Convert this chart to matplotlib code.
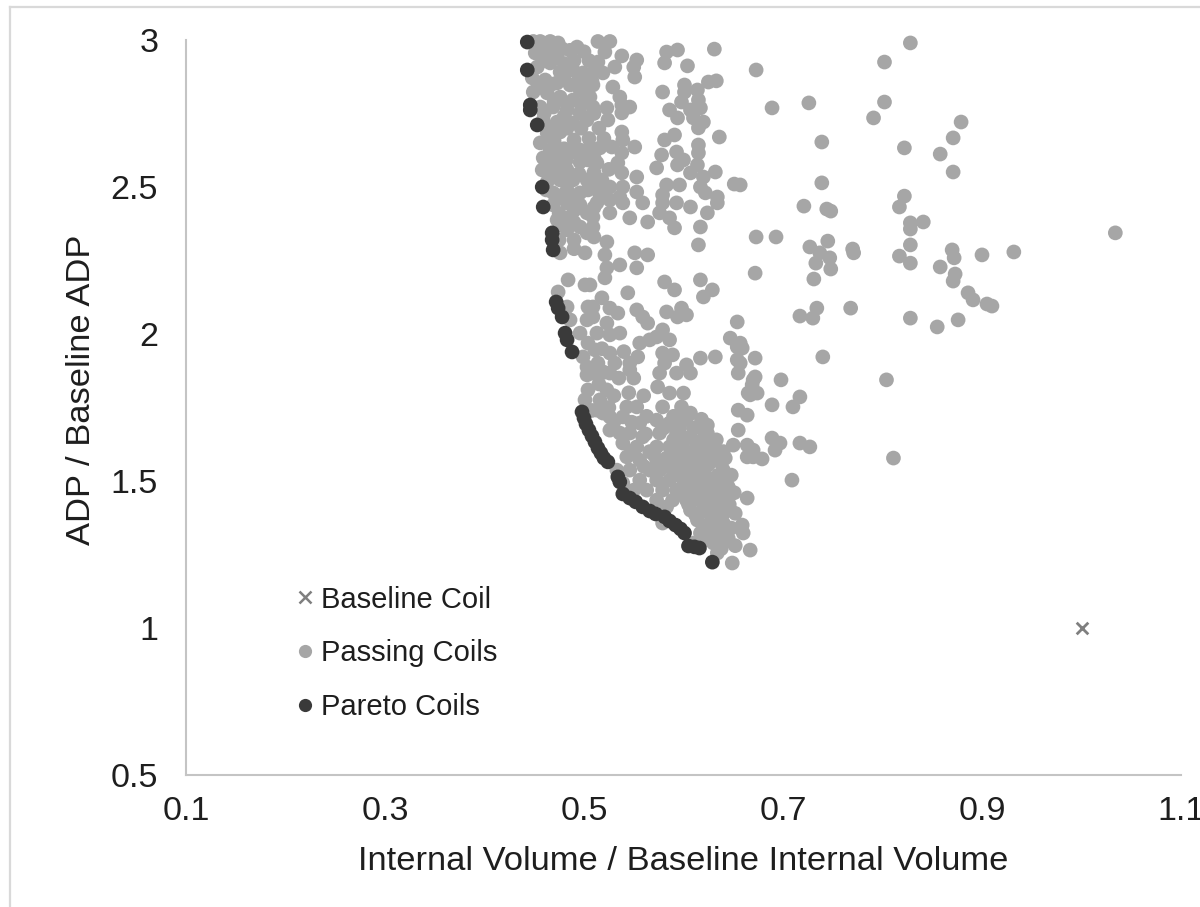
import matplotlib
matplotlib.use("Agg")
import matplotlib.pyplot as plt
from matplotlib.lines import Line2D

# ---------------- data ----------------
baseline_x = [1.0]
baseline_y = [1.0]

pareto_x = [0.443, 0.443, 0.446, 0.446, 0.453, 0.458, 0.459, 0.468, 0.468, 0.469,
            0.472, 0.474, 0.478, 0.481, 0.483, 0.488, 0.498, 0.500, 0.502, 0.505,
            0.508, 0.511, 0.514, 0.517, 0.520, 0.524, 0.534, 0.536, 0.539, 0.546,
            0.552, 0.559, 0.566, 0.572, 0.581, 0.586, 0.592, 0.597, 0.601, 0.605,
            0.611, 0.616, 0.629]
pareto_y = [2.993, 2.898, 2.779, 2.762, 2.711, 2.500, 2.432, 2.344, 2.320, 2.286,
            2.109, 2.088, 2.058, 2.003, 1.980, 1.939, 1.735, 1.714, 1.694, 1.673,
            1.653, 1.633, 1.612, 1.595, 1.578, 1.565, 1.514, 1.497, 1.456, 1.442,
            1.429, 1.412, 1.398, 1.388, 1.378, 1.364, 1.350, 1.337, 1.323, 1.279,
            1.276, 1.272, 1.224]

passing_upper_left = [
    (0.449, 2.995), (0.456, 2.995), (0.466, 2.995), (0.474, 2.990), (0.493, 2.976),
    (0.451, 2.956), (0.463, 2.966), (0.473, 2.949), (0.453, 2.908), (0.466, 2.922),
    (0.476, 2.891), (0.489, 2.898), (0.499, 2.888), (0.448, 2.871), (0.461, 2.864),
    (0.473, 2.854), (0.486, 2.847), (0.496, 2.830), (0.503, 2.840), (0.449, 2.823),
    (0.463, 2.820), (0.476, 2.806), (0.489, 2.796), (0.503, 2.806), (0.456, 2.772),
    (0.469, 2.772), (0.483, 2.762), (0.496, 2.752), (0.459, 2.728), (0.473, 2.721),
    (0.489, 2.718), (0.503, 2.728), (0.463, 2.684), (0.476, 2.687), (0.456, 2.650),
    (0.466, 2.626), (0.474, 2.602), (0.459, 2.599), (0.488, 2.619), (0.496, 2.626),
    (0.458, 2.558), (0.471, 2.565), (0.483, 2.558), (0.496, 2.585), (0.504, 2.592),
    (0.463, 2.517), (0.476, 2.524), (0.489, 2.524), (0.503, 2.524), (0.469, 2.480),
    (0.483, 2.490), (0.496, 2.480), (0.504, 2.490),
    (0.478, 2.970), (0.486, 2.965), (0.500, 2.960), (0.505, 2.930), (0.490, 2.930),
    (0.480, 2.920), (0.460, 2.930), (0.495, 2.870), (0.508, 2.860), (0.480, 2.870),
    (0.468, 2.850), (0.455, 2.850), (0.470, 2.790), (0.483, 2.780), (0.497, 2.780),
    (0.460, 2.750), (0.480, 2.740), (0.510, 2.750), (0.467, 2.700), (0.483, 2.700),
    (0.497, 2.700), (0.515, 2.700), (0.490, 2.660), (0.505, 2.665), (0.520, 2.665),
    (0.470, 2.655), (0.480, 2.630), (0.468, 2.580), (0.482, 2.590), (0.510, 2.600),
    (0.468, 2.540), (0.480, 2.540), (0.495, 2.545), (0.510, 2.550), (0.525, 2.560),
    (0.462, 2.490), (0.476, 2.470), (0.490, 2.460), (0.510, 2.505), (0.520, 2.490),
]

passing_upper_right = [
    (0.514, 2.995), (0.526, 2.995), (0.521, 2.959), (0.538, 2.946), (0.553, 2.932),
    (0.514, 2.925), (0.531, 2.908), (0.550, 2.908), (0.509, 2.888), (0.519, 2.888),
    (0.551, 2.874), (0.509, 2.847), (0.529, 2.840), (0.506, 2.806), (0.536, 2.806),
    (0.509, 2.772), (0.523, 2.769), (0.538, 2.779), (0.546, 2.772), (0.524, 2.728),
    (0.538, 2.752), (0.583, 2.959), (0.594, 2.966), (0.581, 2.922), (0.604, 2.912),
    (0.631, 2.969), (0.579, 2.823), (0.601, 2.847), (0.601, 2.823), (0.614, 2.830),
    (0.625, 2.857), (0.633, 2.861), (0.615, 2.796), (0.598, 2.789), (0.586, 2.762),
    (0.594, 2.735), (0.607, 2.762), (0.617, 2.769), (0.610, 2.735), (0.620, 2.721),
    (0.615, 2.701), (0.636, 2.670), (0.538, 2.687), (0.539, 2.660), (0.506, 2.636),
    (0.516, 2.633), (0.528, 2.636), (0.551, 2.636), (0.538, 2.616), (0.513, 2.582),
    (0.534, 2.582), (0.538, 2.548), (0.518, 2.524), (0.553, 2.534), (0.506, 2.500),
    (0.526, 2.500), (0.539, 2.500), (0.553, 2.483), (0.516, 2.473), (0.536, 2.466),
    (0.581, 2.660), (0.591, 2.677), (0.578, 2.609), (0.593, 2.619), (0.600, 2.592),
    (0.573, 2.565), (0.594, 2.575), (0.615, 2.643), (0.615, 2.616), (0.614, 2.575),
    (0.607, 2.548), (0.620, 2.534), (0.632, 2.551), (0.583, 2.507), (0.596, 2.507),
    (0.617, 2.500), (0.622, 2.480), (0.579, 2.473), (0.651, 2.510), (0.634, 2.466),
]

passing_middle = [
    (0.469, 2.439), (0.483, 2.446), (0.496, 2.439), (0.503, 2.412), (0.473, 2.388),
    (0.486, 2.398), (0.496, 2.364), (0.483, 2.354), (0.503, 2.344), (0.476, 2.276),
    (0.501, 2.276), (0.484, 2.184), (0.501, 2.167), (0.474, 2.143), (0.483, 2.092),
    (0.504, 2.092), (0.486, 2.048), (0.503, 2.048), (0.496, 2.003), (0.504, 1.969),
    (0.499, 1.922), (0.503, 1.888),
    (0.475, 2.410), (0.490, 2.420), (0.510, 2.430), (0.478, 2.370), (0.490, 2.380),
    (0.475, 2.320), (0.490, 2.320), (0.510, 2.330), (0.490, 2.290),
    (0.513, 2.446), (0.526, 2.456), (0.539, 2.446), (0.559, 2.446), (0.579, 2.446),
    (0.593, 2.446), (0.607, 2.432), (0.634, 2.446), (0.509, 2.398), (0.526, 2.412),
    (0.546, 2.395), (0.564, 2.381), (0.576, 2.412), (0.586, 2.395), (0.591, 2.361),
    (0.624, 2.412), (0.617, 2.364), (0.509, 2.364), (0.615, 2.303), (0.523, 2.313),
    (0.521, 2.269), (0.551, 2.276), (0.564, 2.269), (0.536, 2.235), (0.553, 2.225),
    (0.523, 2.225), (0.521, 2.191), (0.581, 2.177), (0.591, 2.150), (0.617, 2.184),
    (0.629, 2.150), (0.620, 2.126), (0.544, 2.140), (0.518, 2.123), (0.506, 2.167),
    (0.526, 2.088), (0.534, 2.071), (0.553, 2.082), (0.559, 2.058), (0.564, 2.037),
    (0.583, 2.075), (0.598, 2.088), (0.603, 2.065), (0.594, 2.058), (0.509, 2.092),
    (0.509, 2.058), (0.523, 2.037), (0.654, 2.041), (0.513, 2.003), (0.526, 1.997),
    (0.536, 2.003), (0.579, 2.014), (0.573, 1.990), (0.556, 1.969), (0.566, 1.980),
    (0.586, 1.980), (0.647, 1.986), (0.654, 1.956), (0.511, 1.946), (0.526, 1.935),
    (0.554, 1.922), (0.579, 1.935), (0.589, 1.929), (0.603, 1.895), (0.617, 1.918),
    (0.632, 1.922), (0.654, 1.912), (0.514, 1.901), (0.531, 1.901), (0.546, 1.901),
    (0.581, 1.901),
    (0.518, 1.950), (0.540, 1.940), (0.520, 1.870), (0.535, 1.850), (0.550, 1.850),
    (0.515, 1.830), (0.530, 1.790), (0.545, 1.800), (0.560, 1.790), (0.508, 1.740),
    (0.525, 1.750),
]

passing_lower = [
    (0.509, 1.867), (0.526, 1.867), (0.546, 1.878), (0.576, 1.867), (0.593, 1.867),
    (0.607, 1.867), (0.655, 1.867), (0.670, 1.844), (0.667, 1.793), (0.574, 1.820),
    (0.586, 1.799), (0.600, 1.799), (0.523, 1.810), (0.516, 1.776), (0.543, 1.752),
    (0.553, 1.752), (0.579, 1.752), (0.598, 1.752), (0.607, 1.731), (0.655, 1.741),
    (0.664, 1.724), (0.526, 1.718), (0.539, 1.718), (0.556, 1.697), (0.573, 1.707),
    (0.586, 1.697), (0.600, 1.707), (0.617, 1.684), (0.624, 1.663), (0.655, 1.673),
    (0.650, 1.622), (0.664, 1.622), (0.670, 1.582), (0.664, 1.582), (0.630, 1.616),
    (0.642, 1.578), (0.526, 1.673), (0.546, 1.663), (0.559, 1.650), (0.576, 1.663),
    (0.593, 1.663), (0.607, 1.650), (0.614, 1.629), (0.539, 1.629), (0.553, 1.616),
    (0.573, 1.616), (0.586, 1.616), (0.600, 1.605), (0.620, 1.595), (0.630, 1.571),
    (0.543, 1.582), (0.556, 1.571), (0.573, 1.571), (0.583, 1.578), (0.593, 1.571),
    (0.607, 1.571), (0.617, 1.548), (0.566, 1.537), (0.576, 1.537), (0.589, 1.537),
    (0.603, 1.537), (0.640, 1.537), (0.546, 1.537), (0.556, 1.503), (0.573, 1.503),
    (0.586, 1.503), (0.600, 1.503), (0.614, 1.503), (0.627, 1.503), (0.642, 1.493),
    (0.550, 1.469), (0.563, 1.469), (0.579, 1.469), (0.593, 1.469), (0.607, 1.469),
    (0.620, 1.469), (0.634, 1.469), (0.664, 1.442), (0.573, 1.435), (0.589, 1.435),
    (0.603, 1.435), (0.617, 1.435), (0.630, 1.435), (0.637, 1.401), (0.583, 1.412),
    (0.607, 1.401), (0.620, 1.401), (0.634, 1.378), (0.579, 1.357), (0.614, 1.367),
    (0.627, 1.357), (0.640, 1.357), (0.659, 1.350), (0.660, 1.323), (0.617, 1.323),
    (0.630, 1.323), (0.640, 1.323), (0.667, 1.265), (0.630, 1.289), (0.640, 1.289),
    (0.620, 1.299), (0.634, 1.255), (0.649, 1.221), (0.610, 1.289),
    (0.533, 1.537), (0.539, 1.493), (0.513, 1.741), (0.519, 1.731), (0.536, 1.663),
    (0.503, 1.861), (0.504, 1.810), (0.501, 1.776),
    (0.590, 1.720), (0.604, 1.720), (0.618, 1.710), (0.596, 1.680), (0.610, 1.680),
    (0.624, 1.690), (0.590, 1.640), (0.603, 1.645), (0.620, 1.645), (0.633, 1.640),
    (0.597, 1.620), (0.612, 1.610), (0.626, 1.610), (0.640, 1.600), (0.590, 1.590),
    (0.604, 1.585), (0.618, 1.580), (0.634, 1.580), (0.598, 1.555), (0.610, 1.550),
    (0.625, 1.555), (0.638, 1.560), (0.595, 1.520), (0.608, 1.520), (0.622, 1.520),
    (0.635, 1.520), (0.648, 1.520), (0.601, 1.490), (0.615, 1.490), (0.629, 1.485),
    (0.645, 1.480), (0.598, 1.455), (0.611, 1.450), (0.625, 1.450), (0.639, 1.450),
    (0.651, 1.460), (0.605, 1.420), (0.620, 1.420), (0.633, 1.415), (0.646, 1.420),
    (0.612, 1.385), (0.626, 1.390), (0.640, 1.390), (0.652, 1.390), (0.620, 1.345),
    (0.634, 1.340), (0.648, 1.340), (0.626, 1.305), (0.645, 1.305), (0.638, 1.270),
    (0.652, 1.280),
    (0.548, 1.700), (0.563, 1.720), (0.562, 1.660), (0.566, 1.600), (0.548, 1.600),
    (0.560, 1.550), (0.570, 1.590), (0.580, 1.550), (0.580, 1.680), (0.530, 1.700),
]

passing_outer = [
    (0.828, 2.990), (0.802, 2.925), (0.673, 2.898), (0.689, 2.769), (0.726, 2.786),
    (0.802, 2.789), (0.791, 2.735), (0.739, 2.653), (0.822, 2.633), (0.858, 2.612),
    (0.657, 2.507), (0.739, 2.514), (0.822, 2.469), (0.817, 2.432), (0.721, 2.435),
    (0.744, 2.425), (0.748, 2.418), (0.841, 2.381), (0.828, 2.378), (0.828, 2.357),
    (0.673, 2.330), (0.693, 2.330), (0.745, 2.316), (0.828, 2.303), (0.727, 2.296),
    (0.770, 2.289), (0.737, 2.276), (0.747, 2.259), (0.733, 2.241), (0.748, 2.221),
    (0.731, 2.187), (0.771, 2.276), (0.817, 2.265), (0.828, 2.241), (0.858, 2.228),
    (0.672, 2.207), (0.717, 2.061), (0.734, 2.088), (0.730, 2.054), (0.768, 2.088),
    (0.828, 2.054), (0.855, 2.024), (0.740, 1.922), (0.804, 1.844), (0.657, 1.969),
    (0.659, 1.952), (0.672, 1.918), (0.657, 1.901), (0.672, 1.854), (0.669, 1.827),
    (0.665, 1.799), (0.674, 1.799), (0.698, 1.844), (0.717, 1.786), (0.710, 1.752),
    (0.689, 1.759), (0.689, 1.646), (0.697, 1.629), (0.692, 1.605), (0.717, 1.629),
    (0.727, 1.616), (0.670, 1.605), (0.679, 1.575), (0.811, 1.578), (0.709, 1.503),
    (0.879, 2.721), (0.871, 2.667), (0.871, 2.551), (1.034, 2.344), (0.870, 2.286),
    (0.872, 2.259), (0.900, 2.269), (0.932, 2.279), (0.873, 2.204), (0.871, 2.180),
    (0.886, 2.140), (0.891, 2.116), (0.905, 2.102), (0.910, 2.095), (0.876, 2.048),
]

x_ticks = [0.1, 0.3, 0.5, 0.7, 0.9, 1.1]
y_ticks = [0.5, 1, 1.5, 2, 2.5, 3]
x_tick_labels = ["0.1", "0.3", "0.5", "0.7", "0.9", "1.1"]
y_tick_labels = ["0.5", "1", "1.5", "2", "2.5", "3"]

# ---------------- figure ----------------
plt.rcParams['font.family'] = ['Liberation Sans', 'DejaVu Sans']
TEXT = '#1e1e1e'
PASS_C = '#a6a6a6'
PARETO_C = '#3a3a3a'
BASE_C = '#7f7f7f'

fig = plt.figure(figsize=(12, 9.07), dpi=100)
ax = fig.add_axes([186/1200, 1 - 775/907, 995/1200, 735/907])

passing = passing_upper_left + passing_upper_right + passing_middle + passing_lower + passing_outer
px = [p[0] for p in passing]
py = [p[1] for p in passing]

ax.scatter(px, py, s=112, color=PASS_C, edgecolors='none', zorder=2, clip_on=False)
ax.scatter(pareto_x, pareto_y, s=112, color=PARETO_C, edgecolors='none', zorder=3, clip_on=False)
ax.scatter(baseline_x, baseline_y, s=70, marker='x', color=BASE_C, linewidths=2, zorder=4)

ax.set_xlim(0.1, 1.1)
ax.set_ylim(0.5, 3)
ax.set_xticks(x_ticks)
ax.set_xticklabels(x_tick_labels)
ax.set_yticks(y_ticks)
ax.set_yticklabels(y_tick_labels)
ax.tick_params(axis='both', length=0, labelsize=24.5, colors=TEXT)
ax.tick_params(axis='x', pad=15)
ax.tick_params(axis='y', pad=20)

for s in ['top', 'right']:
    ax.spines[s].set_visible(False)
for s in ['left', 'bottom']:
    ax.spines[s].set_color('#c4c4c4')
    ax.spines[s].set_linewidth(1.5)

ax.set_xlabel("Internal Volume / Baseline Internal Volume", fontsize=24.8, color=TEXT)
ax.set_ylabel("ADP / Baseline ADP", fontsize=24.8, color=TEXT)
ax.xaxis.set_label_coords(0.5, -0.118)
ax.xaxis.label.set_va('center')
ax.yaxis.set_label_coords(-0.105, 0.524)
ax.yaxis.label.set_va('center')

handles = [
    Line2D([], [], linestyle='none', marker='x', markersize=8, markeredgewidth=1.8, color=BASE_C),
    Line2D([], [], linestyle='none', marker='o', markersize=9.5, markeredgewidth=0, color=PASS_C),
    Line2D([], [], linestyle='none', marker='o', markersize=9.5, markeredgewidth=0, color=PARETO_C),
]
labels = ["Baseline Coil", "Passing Coils", "Pareto Coils"]
leg = ax.legend(handles, labels, loc='upper left', bbox_to_anchor=(283/1200, 1 - 571/907),
                bbox_transform=fig.transFigure, frameon=False, fontsize=21,
                handlelength=0.5, handletextpad=0.3, labelspacing=0.88, borderpad=0)
for t in leg.get_texts():
    t.set_color(TEXT)

# light figure border (Excel chart area)
fig.add_artist(Line2D([10/1200, 10/1200], [0, 1 - 7/907], transform=fig.transFigure,
                      color='#d9d9d9', linewidth=1.6))
fig.add_artist(Line2D([10/1200, 1], [1 - 7/907, 1 - 7/907], transform=fig.transFigure,
                      color='#d9d9d9', linewidth=1.6))

fig.savefig("out.png", dpi=100, facecolor='white')
